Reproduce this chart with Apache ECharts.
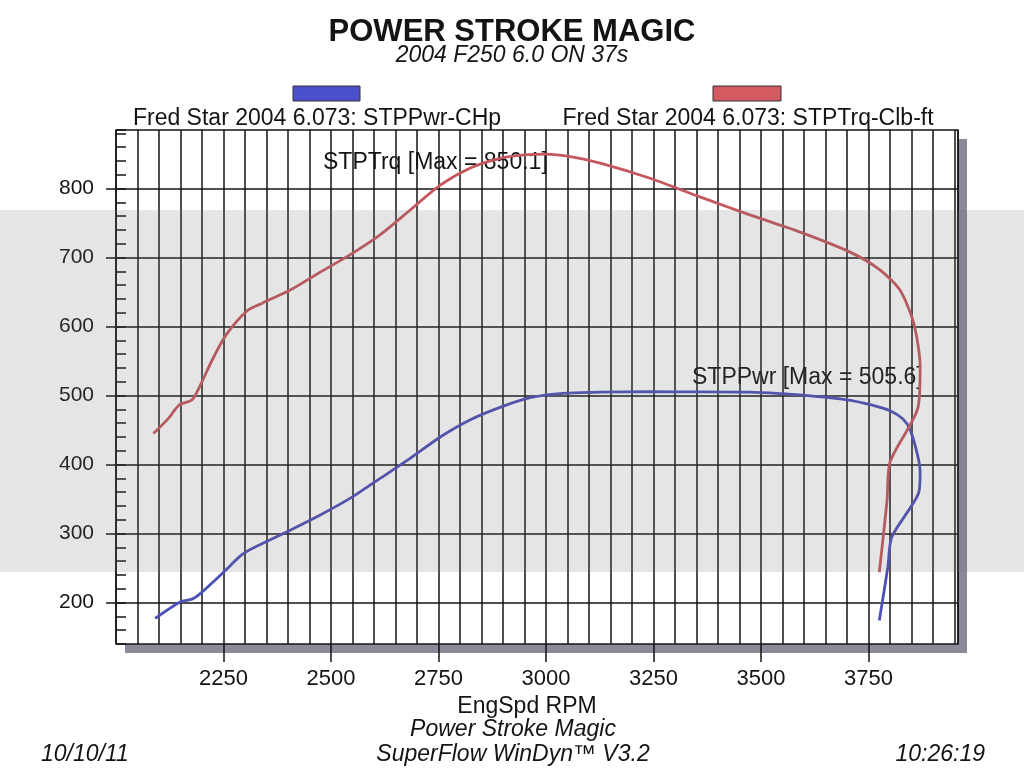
<!DOCTYPE html>
<html>
<head>
<meta charset="utf-8">
<script src="https://cdn.jsdelivr.net/npm/echarts@6/dist/echarts.min.js"></script>
<style>
  html, body { margin: 0; padding: 0; background: #fff; }
  #dyno { width: 1024px; height: 781px; }
</style>
</head>
<body>
<div id="dyno"></div>
<script>
// tick labels
const xLabelTicks = [2250, 2500, 2750, 3000, 3250, 3500, 3750]
const yLabelTicks = [200, 300, 400, 500, 600, 700, 800]

// STPTrq (lb-ft) vs engine speed
const trqRpm = [2087, 2122, 2146, 2177, 2196, 2224, 2256, 2305, 2340, 2405, 2475, 2544, 2614, 2684, 2754, 2824, 2893, 2950, 3000, 3060, 3126, 3242, 3358, 3474, 3591, 3707, 3777, 3823, 3855, 3870, 3865, 3800, 3793, 3775]
const trqVal = [445, 467, 486, 494, 515, 552, 588, 623, 634, 653, 679, 704, 733, 769, 805, 830, 844, 849, 850.1, 846, 837, 815, 788, 762, 737, 708, 682, 653, 605, 542, 483, 404, 348, 244]

// STPPwr (hp) vs engine speed
const pwrRpm = [2091, 2149, 2177, 2196, 2250, 2290, 2312, 2405, 2475, 2544, 2614, 2684, 2754, 2824, 2893, 2963, 3033, 3126, 3242, 3358, 3474, 3544, 3591, 3700, 3754, 3800, 3830, 3847, 3865, 3870, 3866, 3804, 3795, 3775]
const pwrVal = [177, 201, 205, 213, 244, 268, 277, 305, 327, 351, 380, 409, 440, 465, 483, 497, 503, 505, 505.6, 505.5, 505, 503, 501, 494, 487, 478, 466, 450, 411, 388, 358, 295, 252, 174]

const FONT = '"Liberation Sans", Arial, Helvetica, sans-serif'
const INK = '#141414'
const GRID = { left: 116, top: 130, width: 842, height: 514 }
const SHADOW = 9

const zip = (xs, ys) => xs.map((x, i) => [x, ys[i]])

var mychart = echarts.init(document.getElementById('dyno'))

const txt = (text, x, y, size, extra) => ({
    type: 'text', x: x, y: y, silent: true,
    style: Object.assign({
        text: text, fontSize: size, fontFamily: FONT, fill: INK,
        align: 'center', verticalAlign: 'middle'
    }, extra || {})
})

let option = {
    backgroundColor: '#fff',
    animation: false,
    textStyle: { fontFamily: FONT },
    title: [
        { text: 'POWER STROKE MAGIC', left: 'center', top: 12,
          textStyle: { fontSize: 31, fontWeight: 'bold', color: INK, fontFamily: FONT } },
        { text: '2004 F250 6.0 ON 37s', left: 'center', top: 39,
          textStyle: { fontSize: 23, fontStyle: 'italic', fontWeight: 'normal', color: INK, fontFamily: FONT } }
    ],
    grid: Object.assign({
        outerBoundsMode: 'none',
        show: true, backgroundColor: '#fff',
        borderColor: INK, borderWidth: 1.5
    }, GRID),
    xAxis: [
        // fine grid every 50 rpm
        { type: 'value', min: 2000, max: 3958, interval: 50,
          axisLine: { show: false }, axisTick: { show: false }, axisLabel: { show: false },
          splitLine: { show: true, lineStyle: { color: INK, width: 1.5 } } },
        // labelled ticks
        { type: 'value', min: 2000, max: 3958, position: 'bottom',
          axisLine: { show: false },
          axisTick: { show: true, customValues: xLabelTicks, length: 18, lineStyle: { color: INK, width: 1.5 } },
          axisLabel: { customValues: xLabelTicks, fontSize: 22, color: INK, margin: 24, fontFamily: FONT,
                       formatter: v => String(v) },
          splitLine: { show: false },
          name: 'EngSpd RPM', nameLocation: 'middle', nameGap: 50,
          nameTextStyle: { fontSize: 23, color: INK, fontFamily: FONT, padding: [0, 20, 0, 0] } }
    ],
    yAxis: [
        { type: 'value', min: 140, max: 885, position: 'left',
          axisLine: { show: false },
          axisTick: { show: true, customValues: yLabelTicks, length: 10, lineStyle: { color: INK, width: 1.5 } },
          axisLabel: { customValues: yLabelTicks, fontSize: 21, color: INK, margin: 22, fontFamily: FONT,
                       formatter: v => String(v) },
          splitLine: { show: true, lineStyle: { color: INK, width: 1.5 } } },
        // minor ticks every 20
        { type: 'value', min: 140, max: 885, interval: 20, position: 'left',
          axisLine: { show: false },
          axisTick: { show: true, inside: true, length: 10, lineStyle: { color: INK, width: 1.5 } },
          axisLabel: { show: false }, splitLine: { show: false } }
    ],
    series: [
        { name: 'STPPwr-CHp', type: 'line', xAxisIndex: 0, yAxisIndex: 0,
          data: zip(pwrRpm, pwrVal), symbol: 'none', smooth: 0.25,
          lineStyle: { color: '#4d50b8', width: 2.8 } },
        { name: 'STPTrq-Clb-ft', type: 'line', xAxisIndex: 0, yAxisIndex: 0,
          data: zip(trqRpm, trqVal), symbol: 'none', smooth: 0.25,
          lineStyle: { color: '#c5575e', width: 2.8 } }
    ],
    graphic: [
        // drop shadow behind the plot frame
        { type: 'rect', z: -5, silent: true,
          shape: { x: GRID.left + SHADOW, y: GRID.top + SHADOW, width: GRID.width, height: GRID.height },
          style: { fill: '#8b899a' } },
        // legend swatches + labels
        { type: 'rect', shape: { x: 293, y: 86, width: 67, height: 15 }, silent: true,
          style: { fill: '#4a4fcc', stroke: '#333', lineWidth: 1 } },
        txt('Fred Star 2004 6.073: STPPwr-CHp', 317, 119, 23),
        { type: 'rect', shape: { x: 713, y: 86, width: 68, height: 15 }, silent: true,
          style: { fill: '#d25a60', stroke: '#333', lineWidth: 1 } },
        txt('Fred Star 2004 6.073: STPTrq-Clb-ft', 748, 119, 23),
        // curve notes
        txt('STPTrq [Max = 850.1]', 323, 163, 23, { align: 'left' }),
        txt('STPPwr [Max = 505.6]', 692, 378, 23, { align: 'left' }),
        // footer
        txt('Power Stroke Magic', 513, 730, 23, { fontStyle: 'italic' }),
        txt('SuperFlow WinDyn\u2122 V3.2', 513, 755, 23, { fontStyle: 'italic' }),
        txt('10/10/11', 41, 755, 23, { fontStyle: 'italic', align: 'left' }),
        txt('10:26:19', 985, 755, 23, { fontStyle: 'italic', align: 'right' }),
        // grey band left by the scan/host overlay
        { type: 'rect', z: 100, silent: true, shape: { x: 0, y: 210, width: 1024, height: 362 },
          style: { fill: 'rgba(110,110,110,0.18)' } }
    ]
}
mychart.setOption(option)
</script>
</body>
</html>
